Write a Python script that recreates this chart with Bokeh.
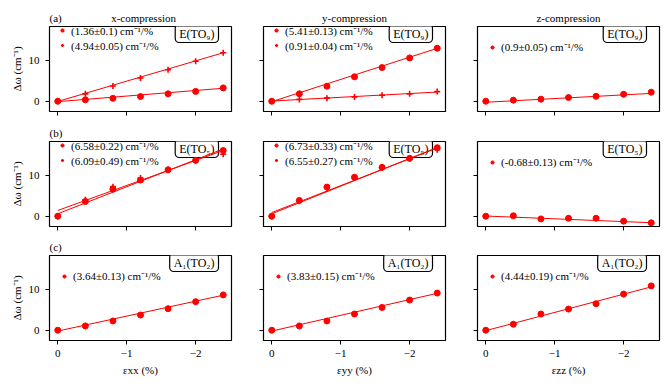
from bokeh.plotting import figure
from bokeh.layouts import gridplot
from bokeh.models import Range1d, FixedTicker, Label, Legend, LegendItem, CustomJSTickFormatter
from bokeh.embed import file_html
from bokeh.resources import INLINE

# ---------------- data ----------------
strain = [0.0, -0.4, -0.8, -1.2, -1.6, -2.0, -2.4]

col_titles = ["x-compression", "y-compression", "z-compression"]
row_tags = ["(a)", "(b)", "(c)"]
mode_names = ["E(TO\u2089)", "E(TO\u2085)", "A\u2081(TO\u2082)"]
x_labels = ["\u03b5xx (%)", "\u03b5yy (%)", "\u03b5zz (%)"]
y_label = "\u0394\u03c9 (cm\u207b\u00b9)"

e9_x_circ = [0.0, 0.35, 0.7, 1.15, 1.8, 2.4, 3.25]
e9_x_plus = [0.0, 1.8, 3.7, 5.65, 7.65, 9.75, 11.8]
e9_y_circ = [0.0, 1.8, 3.65, 5.95, 8.2, 10.55, 12.9]
e9_y_plus = [0.0, 0.45, 0.75, 1.05, 1.45, 1.8, 2.35]
e9_z_circ = [0.0, 0.25, 0.5, 0.9, 1.2, 1.7, 2.2]

e5_x_circ = [0.0, 3.6, 6.6, 8.8, 11.3, 13.6, 16.0]
e5_x_plus = [0.0, 4.0, 7.2, 9.3, 11.4, 13.7, 15.1]
e5_y_circ = [0.0, 3.85, 7.1, 9.5, 11.9, 14.1, 16.7]
e5_y_plus = [0.0, 3.65, 6.8, 9.3, 11.8, 14.0, 16.2]
e5_z_circ = [0.0, 0.1, -0.65, -0.5, -0.5, -1.2, -1.6]

a1_x_circ = [0.0, 1.05, 2.25, 3.7, 5.25, 6.95, 8.6]
a1_y_circ = [0.0, 1.05, 2.25, 3.95, 5.55, 7.35, 9.05]
a1_z_circ = [0.0, 1.45, 3.95, 5.15, 6.45, 8.8, 10.8]

# fitted slopes (cm^-1 per % compression) and intercepts
circ_slopes = [[1.36, 5.41, 0.9], [6.58, 6.73, -0.68], [3.64, 3.83, 4.44]]
circ_icepts = [[-0.1, -0.1, -0.25], [0.6, 0.6, 0.05], [-0.2, -0.2, -0.1]]
plus_slopes = [[4.94, 0.91, None], [6.09, 6.55, None], [None, None, None]]
plus_icepts = [[-0.05, 0.05, None], [1.4, 0.9, None], [None, None, None]]

circ_labels = [["(1.36\u00b10.1) cm\u207b\u00b9/%", "(5.41\u00b10.13) cm\u207b\u00b9/%", "(0.9\u00b10.05) cm\u207b\u00b9/%"],
               ["(6.58\u00b10.22) cm\u207b\u00b9/%", "(6.73\u00b10.33) cm\u207b\u00b9/%", "(-0.68\u00b10.13) cm\u207b\u00b9/%"],
               ["(3.64\u00b10.13) cm\u207b\u00b9/%", "(3.83\u00b10.15) cm\u207b\u00b9/%", "(4.44\u00b10.19) cm\u207b\u00b9/%"]]
plus_labels = [["(4.94\u00b10.05) cm\u207b\u00b9/%", "(0.91\u00b10.04) cm\u207b\u00b9/%", None],
               ["(6.09\u00b10.49) cm\u207b\u00b9/%", "(6.55\u00b10.27) cm\u207b\u00b9/%", None],
               [None, None, None]]

circ_data = [[e9_x_circ, e9_y_circ, e9_z_circ], [e5_x_circ, e5_y_circ, e5_z_circ], [a1_x_circ, a1_y_circ, a1_z_circ]]
plus_data = [[e9_x_plus, e9_y_plus, None], [e5_x_plus, e5_y_plus, None], [None, None, None]]

x_ticks = [0, -1, -2]
x_tick_labels = {0: "0", -1: "\u22121", -2: "\u22122"}
y_ticks = [0, 10]

# ---------------- layout ----------------
SERIF = "Liberation Serif"
RED = "#ff0000"
INK = "black"
FW, FH = 182, 85
X0, X1 = 0.12, -2.52
Y0, Y1 = -2.5, 18.2
left_b = [49, 22, 22]
right_b = [10, 10, 2]
top_b = [26, 19, 19]
bot_b = [11, 10, 42]
NB = "\u00a0"

figs = []
for r in range(3):
    for c in range(3):
        p = figure(frame_width=FW, frame_height=FH, output_backend="svg", toolbar_location=None,
                   x_range=Range1d(X0, X1), y_range=Range1d(Y0, Y1),
                   min_border_left=left_b[c], min_border_right=right_b[c],
                   min_border_top=top_b[r], min_border_bottom=bot_b[r])
        p.grid.visible = False
        p.outline_line_color = INK
        p.outline_line_width = 1.2
        for ax in (p.xaxis[0], p.yaxis[0]):
            ax.axis_line_color = None
            ax.major_tick_in = 0
            ax.major_tick_out = 4
            ax.major_tick_line_color = INK
            ax.minor_tick_line_color = None
            ax.major_label_text_font = SERIF
            ax.major_label_text_font_size = "11px"
            ax.major_label_text_color = INK
            ax.axis_label_text_color = INK
        p.xaxis.ticker = FixedTicker(ticks=x_ticks)
        p.yaxis.ticker = FixedTicker(ticks=y_ticks)
        if r == 2:
            p.xaxis.major_label_overrides = x_tick_labels
            p.xaxis.major_label_standoff = 5
            p.xaxis.axis_label = x_labels[c]
            p.xaxis.axis_label_text_font = SERIF
            p.xaxis.axis_label_text_font_style = "normal"
            p.xaxis.axis_label_text_font_size = "11px"
            p.xaxis.axis_label_standoff = 4
        else:
            p.xaxis.formatter = CustomJSTickFormatter(code="return ''")
            p.xaxis.major_label_text_font_size = "0px"
            p.xaxis.major_label_standoff = 0
        if c == 0:
            p.yaxis.major_label_standoff = 6
            p.yaxis.axis_label = y_label
            p.yaxis.axis_label_text_font = SERIF
            p.yaxis.axis_label_text_font_style = "normal"
            p.yaxis.axis_label_text_font_size = "11px"
            p.yaxis.axis_label_standoff = 3
        else:
            p.yaxis.formatter = CustomJSTickFormatter(code="return ''")
            p.yaxis.major_label_text_font_size = "0px"
            p.yaxis.major_label_standoff = 0

        # titles above the frame
        title_text = None
        align = "left"
        if r == 0 and c == 0:
            title_text = row_tags[r] + NB * 18 + col_titles[c]
        elif r == 0:
            title_text = col_titles[c]
            align = "center"
        elif c == 0:
            title_text = row_tags[r]
        if title_text:
            p.title.text = title_text
            p.title.align = align
            p.title.text_font = SERIF
            p.title.text_font_size = "11px"
            p.title.text_font_style = "normal"
            p.title.text_color = INK
            p.title.standoff = 5

        # mode name box at the top right of the frame (drawn beneath the data)
        p.add_layout(Label(x=X1, y=Y1, x_offset=-13, y_offset=-7, text=mode_names[r], text_align="right",
                           text_baseline="middle", text_font=SERIF, text_font_size="12px", text_color=INK,
                           border_line_color=INK, border_line_width=1.2, background_fill_color="white",
                           padding=(4, 2), border_radius=4, level="underlay"))

        items = []
        cd = circ_data[r][c]
        rc = p.scatter(strain, cd, marker="circle", size=6, fill_color=RED, line_color=RED)
        s, b = circ_slopes[r][c], circ_icepts[r][c]
        p.line([strain[0], strain[-1]], [s * -strain[0] + b, s * -strain[-1] + b], line_color=RED, line_width=1)
        items.append(LegendItem(label=circ_labels[r][c], renderers=[rc]))
        pd_ = plus_data[r][c]
        if pd_ is not None:
            rp = p.scatter(strain, pd_, marker="cross", size=6, line_color=RED, line_width=1.6)
            s, b = plus_slopes[r][c], plus_icepts[r][c]
            p.line([strain[0], strain[-1]], [s * -strain[0] + b, s * -strain[-1] + b], line_color=RED, line_width=1)
            items.append(LegendItem(label=plus_labels[r][c], renderers=[rp]))

        if len(items) == 2:
            loc = (9, FH - 28 + 1.5)
        else:
            loc = (11, FH - 12 - 16)
        leg = Legend(items=items, location=loc, padding=0, spacing=-4, margin=0,
                     glyph_width=8, glyph_height=12, label_height=12, label_standoff=5,
                     label_text_font=SERIF, label_text_font_size="11px", label_text_color=INK,
                     border_line_color=None, background_fill_alpha=0)
        p.add_layout(leg)
        figs.append(p)

grid = gridplot(figs, ncols=3, toolbar_location=None)
open("out.html", "w").write(file_html(grid, INLINE))
